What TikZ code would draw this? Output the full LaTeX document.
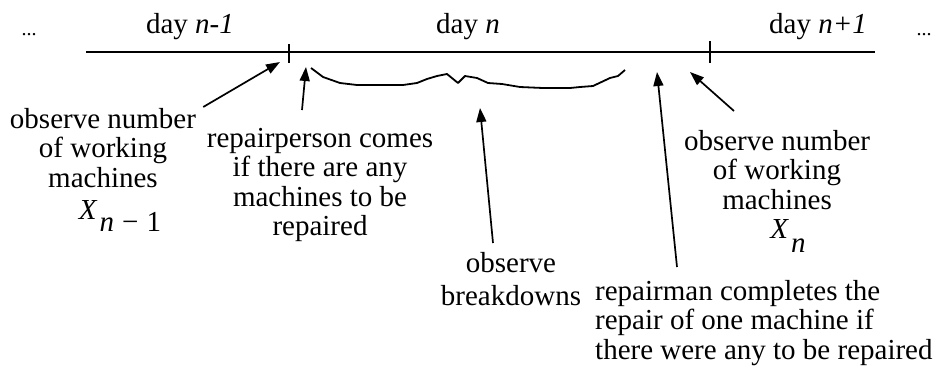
\documentclass[tikz,border=0pt]{standalone}
\usepackage{fontspec}
\setmainfont{Liberation Serif}
\usetikzlibrary{arrows.meta}

\begin{document}
\begin{tikzpicture}[x=1pt,y=-1pt,
    lbl/.style={inner sep=0pt,font=\fontsize{29}{29.5}\selectfont},
    blk/.style={lbl,align=center,anchor=north},
    arr/.style={-{Triangle[length=14pt,width=10pt]},line width=1.7pt}]
  \useasboundingbox (0,0) rectangle (941,370);

  % Timeline
  \draw[line width=1.7pt] (86,52) -- (875,52);
  \draw[line width=1.7pt] (289,44) -- (289,63);
  \draw[line width=1.7pt] (710,41) -- (710,63);
  \node[lbl,anchor=base,font=\fontsize{20}{20}\selectfont] (dotsL) at (29,35) {...};
  \node[lbl,anchor=base,font=\fontsize{20}{20}\selectfont] (dotsR) at (924,35) {...};
  \node[lbl,anchor=base] (dayA) at (190,33) {day \textit{n-1}};
  \node[lbl,anchor=base] (dayB) at (468,33) {day \textit{n}};
  \node[lbl,anchor=base] (dayC) at (818,33) {day \textit{n+1}};

  % Breakdowns during the day
  \draw[line width=1.8pt,line join=round] (311,68) -- (323,77) -- (340,83) -- (357,85)
    -- (403,85) -- (417,83) -- (427,79) -- (437,76) -- (447,74) -- (458,83)
    -- (465,76) -- (477,78) -- (488,83) -- (502,84) -- (520,87) -- (543,88)
    -- (570,88) -- (580,87) -- (593,86) -- (610,78) -- (618,76) -- (625,70);

  % Labels
  \node[blk] (obsA) at (103,108) {observe number\\of working\\machines\\[3pt]
    \hspace*{34pt}\textit{X}\hspace{2pt}\raisebox{-12pt}{\textit{n}\;−\;1}};
  \node[blk] (comes) at (320,128) {repairperson comes\\if there are any\\machines to be\\repaired};
  \node[blk,font=\fontsize{29}{33}\selectfont] (brk) at (511,252) {observe\\breakdowns};
  \node[lbl,align=left,anchor=north west] (repman) at (595,280)
    {repairman completes the\\repair of one machine if\\there were any to be repaired};
  \node[blk] (obsB) at (777,130) {observe number\\of working\\machines\\
    \hspace*{22pt}\textit{X}\hspace{2pt}\raisebox{-14pt}{\textit{n}}};

  % Arrows
  \coordinate (hA) at (280,62);
  \coordinate (hB) at (306,67);
  \coordinate (hC) at (480,108);
  \coordinate (hD) at (657,72);
  \coordinate (hE) at (690,72);
  \draw[arr] (obsA.north east) ++(7pt,1pt) -- (hA);
  \draw[arr] (comes.north) ++(-18pt,18pt) -- (hB);
  \draw[arr] (brk.north) ++(-18pt,9pt) -- (hC);
  \draw[arr] (repman.north west) ++(82pt,13pt) -- (hD);
  \draw[arr] (obsB.north) ++(-43pt,19pt) -- (hE);
\end{tikzpicture}
\end{document}
